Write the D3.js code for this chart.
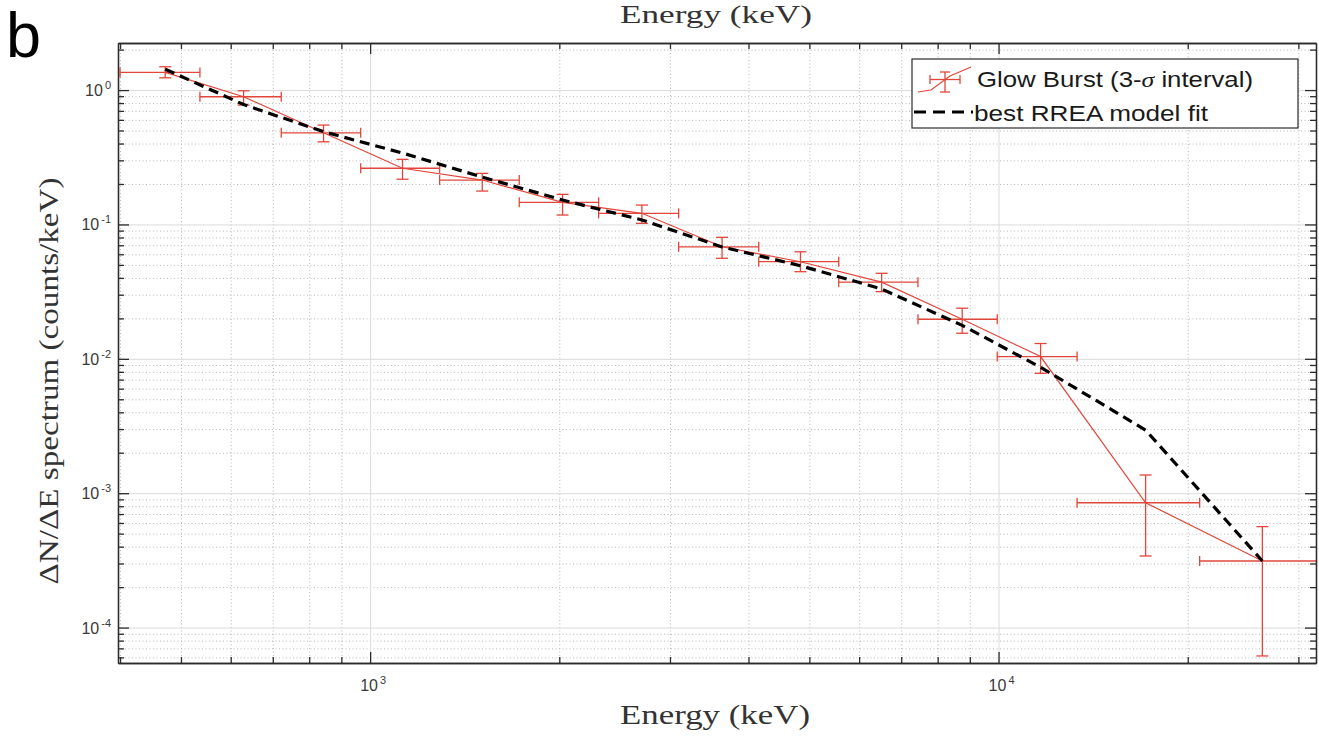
<!DOCTYPE html>
<html><head><meta charset="utf-8">
<script src="https://cdn.jsdelivr.net/npm/d3@7"></script>
<style>body{margin:0;background:#fff}svg{display:block}</style>
</head><body><svg id="c" width="1319" height="743"></svg>
<script>
// ---- data ----
const energy   = [472, 629, 843, 1126, 1508, 2024, 2707, 3631, 4839, 6516, 8753, 11665, 17140, 26290];
const binEdges = [400, 536, 722, 966, 1290, 1727, 2310, 3097, 4153, 5568, 7443, 9952, 13335, 20893, 32500];
const counts   = [1.354, 0.892, 0.481, 0.262, 0.214, 0.146, 0.121, 0.0682, 0.0528, 0.0372, 0.0197, 0.0104, 0.000849, 0.000313];
const errUpper = [1.491, 0.988, 0.549, 0.305, 0.240, 0.1675, 0.1394, 0.0802, 0.0626, 0.0433, 0.0238, 0.0130, 0.001366, 0.000564];
const errLower = [1.234, 0.773, 0.412, 0.217, 0.1772, 0.1175, 0.1019, 0.056, 0.0445, 0.0316, 0.0155, 0.0078, 0.000341, 0.0000615];
const modelFit = [1.43, 0.78, 0.49, 0.34, 0.225, 0.152, 0.108, 0.068, 0.0493, 0.0331, 0.01775, 0.00865, 0.00295, 0.000313];
const xMajorTicks = [1000, 10000];
const xTickLabels = ["3", "4"];
const yMajorTicks = [1e-4, 1e-3, 1e-2, 1e-1, 1];
const yTickLabels = ["-4", "-3", "-2", "-1", "0"];
const legendLabels = ["Glow Burst (3-", "σ", " interval)", "best RREA model fit"];
const xLabel = "Energy (keV)";
const yLabel = "ΔN/ΔE spectrum (counts/keV)";

// ---- layout ----
const M = {l:118, r:1316, t:43, b:663};
const x = d3.scaleLog().domain([397, 32000]).range([M.l, M.r]);
const y = d3.scaleLog().domain([5.45e-5, 2.24]).range([M.b, M.t]);
const red = "#e2463a", ink = "#2b2b2b";

const xMinorTicks = [];
[100, 1000, 10000].forEach(d => { for (let k = 2; k <= 9; k++) { const v = d*k; if (v > 397 && v < 32000 && v !== 1000 && v !== 10000) xMinorTicks.push(v); } });
const yMinorTicks = [];
[1e-5, 1e-4, 1e-3, 1e-2, 1e-1, 1].forEach(d => { for (let k = 2; k <= 9; k++) { const v = d*k; if (v > 5.45e-5 && v < 2.24) yMinorTicks.push(v); } });

const svg = d3.select("#c");
svg.append("rect").attr("width", 1319).attr("height", 743).attr("fill", "#fff");
svg.append("defs").append("clipPath").attr("id", "clip").append("rect")
  .attr("x", M.l).attr("y", M.t).attr("width", M.r - M.l).attr("height", M.b - M.t);

// ---- grids ----
function grid(axis, tr, dash, color) {
  const g = svg.append("g").attr("transform", tr).call(axis);
  g.select(".domain").remove();
  g.selectAll("text").remove();
  g.selectAll("line").attr("stroke", color).attr("stroke-width", 1).attr("stroke-dasharray", dash);
}
grid(d3.axisBottom(x).tickValues(xMinorTicks).tickSize(-(M.b - M.t)).tickFormat(""), `translate(0,${M.b})`, "1,2.5", "#b8b8b8");
grid(d3.axisLeft(y).tickValues(yMinorTicks).tickSize(-(M.r - M.l)).tickFormat(""), `translate(${M.l},0)`, "1,2.5", "#b8b8b8");
grid(d3.axisBottom(x).tickValues(xMajorTicks).tickSize(-(M.b - M.t)).tickFormat(""), `translate(0,${M.b})`, null, "#dadada");
grid(d3.axisLeft(y).tickValues(yMajorTicks).tickSize(-(M.r - M.l)).tickFormat(""), `translate(${M.l},0)`, null, "#dadada");

// ---- data: error bars + line ----
const pg = svg.append("g").attr("clip-path", "url(#clip)");
const cap = 6, hcap = 5;
energy.forEach((e, i) => {
  const cx = x(e), cy = y(counts[i]);
  const yt = y(errUpper[i]), yb = y(errLower[i]);
  const xl = x(binEdges[i]), xr = x(binEdges[i+1]);
  const lines = [
    [cx, yt, cx, yb], [cx - cap, yt, cx + cap, yt], [cx - cap, yb, cx + cap, yb],
    [xl, cy, xr, cy], [xl, cy - hcap, xl, cy + hcap], [xr, cy - hcap, xr, cy + hcap]
  ];
  lines.forEach(l => pg.append("line").attr("x1", l[0]).attr("y1", l[1]).attr("x2", l[2]).attr("y2", l[3])
    .attr("stroke", red).attr("stroke-width", 1.3));
});
pg.append("path").datum(energy.map((e, i) => [e, counts[i]]))
  .attr("d", d3.line().x(d => x(d[0])).y(d => y(d[1])))
  .attr("fill", "none").attr("stroke", red).attr("stroke-width", 1.2);
pg.append("path").datum(energy.map((e, i) => [e, modelFit[i]]))
  .attr("d", d3.line().x(d => x(d[0])).y(d => y(d[1])))
  .attr("fill", "none").attr("stroke", "#000").attr("stroke-width", 3.2).attr("stroke-dasharray", "10,6");

// ---- axes (ticks inward on all four sides) ----
function ax(axis, tr) {
  const g = svg.append("g").attr("transform", tr).call(axis);
  g.selectAll("text").remove();
  g.selectAll("line").attr("stroke", ink).attr("stroke-width", 1.3);
  g.select(".domain").attr("stroke", ink).attr("stroke-width", 1.3);
  return g;
}
ax(d3.axisBottom(x).tickValues(xMajorTicks).tickSize(-11).tickSizeOuter(0), `translate(0,${M.b})`);
ax(d3.axisBottom(x).tickValues(xMinorTicks).tickSize(-6).tickSizeOuter(0), `translate(0,${M.b})`);
ax(d3.axisTop(x).tickValues(xMajorTicks).tickSize(-11).tickSizeOuter(0), `translate(0,${M.t})`);
ax(d3.axisTop(x).tickValues(xMinorTicks).tickSize(-6).tickSizeOuter(0), `translate(0,${M.t})`);
ax(d3.axisLeft(y).tickValues(yMajorTicks).tickSize(-11).tickSizeOuter(0), `translate(${M.l},0)`);
ax(d3.axisLeft(y).tickValues(yMinorTicks).tickSize(-6).tickSizeOuter(0), `translate(${M.l},0)`);
ax(d3.axisRight(y).tickValues(yMajorTicks).tickSize(-11).tickSizeOuter(0), `translate(${M.r},0)`);
ax(d3.axisRight(y).tickValues(yMinorTicks).tickSize(-6).tickSizeOuter(0), `translate(${M.r},0)`);

// ---- tick labels ----
const tf = "'Liberation Sans', Arial, sans-serif";
xMajorTicks.forEach((v, i) => {
  const t = svg.append("text").attr("x", x(v) + 3).attr("y", 691).attr("text-anchor", "middle")
    .attr("font-family", tf).attr("font-size", 16).attr("fill", "#3a3a3a");
  t.append("tspan").text("10");
  t.append("tspan").attr("dy", -7).attr("dx", 2).attr("font-size", 11).text(xTickLabels[i]);
});
yMajorTicks.forEach((v, i) => {
  const t = svg.append("text").attr("x", 111).attr("y", y(v) + 6).attr("text-anchor", "end")
    .attr("font-family", tf).attr("font-size", 16).attr("fill", "#3a3a3a");
  t.append("tspan").text("10");
  t.append("tspan").attr("dy", -7).attr("dx", 2).attr("font-size", 11).text(yTickLabels[i]);
});

// ---- axis labels ----
const sf = "'Liberation Serif', 'Times New Roman', serif";
svg.append("text").attr("x", 715).attr("y", 724).attr("text-anchor", "middle")
  .attr("font-family", sf).attr("font-size", 28).attr("fill", "#333")
  .attr("textLength", 190).attr("lengthAdjust", "spacingAndGlyphs").text(xLabel);
// x-label of the panel above, at the top edge
svg.append("text").attr("x", 716).attr("y", 23).attr("text-anchor", "middle")
  .attr("font-family", sf).attr("font-size", 25).attr("fill", "#333")
  .attr("textLength", 192).attr("lengthAdjust", "spacingAndGlyphs").text(xLabel);
svg.append("text").attr("transform", "translate(58,381) rotate(-90)").attr("text-anchor", "middle")
  .attr("font-family", sf).attr("font-size", 27).attr("fill", "#333")
  .attr("textLength", 407).attr("lengthAdjust", "spacingAndGlyphs").text(yLabel);

// panel letter
svg.append("text").attr("x", 6).attr("y", 57).attr("font-family", tf).attr("font-size", 63).attr("fill", "#000").text("b");

// ---- legend ----
const lg = svg.append("g");
lg.append("rect").attr("x", 912).attr("y", 59).attr("width", 386).attr("height", 69)
  .attr("fill", "#fff").attr("stroke", ink).attr("stroke-width", 1.2);
lg.append("path").attr("d", d3.line()([[918, 92], [931, 90], [950, 76], [971, 67]]))
  .attr("fill", "none").attr("stroke", red).attr("stroke-width", 1.2);
[[930, 79.5, 960, 79.5], [930, 75, 930, 84], [960, 75, 960, 84],
 [945, 72, 945, 92], [940, 72, 950, 72], [940, 92, 950, 92]].forEach(l =>
  lg.append("line").attr("x1", l[0]).attr("y1", l[1]).attr("x2", l[2]).attr("y2", l[3])
    .attr("stroke", red).attr("stroke-width", 1.3));
const t1 = lg.append("text").attr("x", 977).attr("y", 87).attr("font-family", tf).attr("font-size", 22)
  .attr("fill", "#1a1a1a").attr("textLength", 276).attr("lengthAdjust", "spacingAndGlyphs");
t1.append("tspan").text(legendLabels[0]);
t1.append("tspan").attr("font-family", sf).attr("font-style", "italic").text(legendLabels[1]);
t1.append("tspan").text(legendLabels[2]);
lg.append("line").attr("x1", 914).attr("y1", 112).attr("x2", 973).attr("y2", 112)
  .attr("stroke", "#000").attr("stroke-width", 3.2).attr("stroke-dasharray", "12,7");
lg.append("text").attr("x", 974).attr("y", 121).attr("font-family", tf).attr("font-size", 22)
  .attr("fill", "#1a1a1a").attr("textLength", 234).attr("lengthAdjust", "spacingAndGlyphs").text(legendLabels[3]);
</script></body></html>
